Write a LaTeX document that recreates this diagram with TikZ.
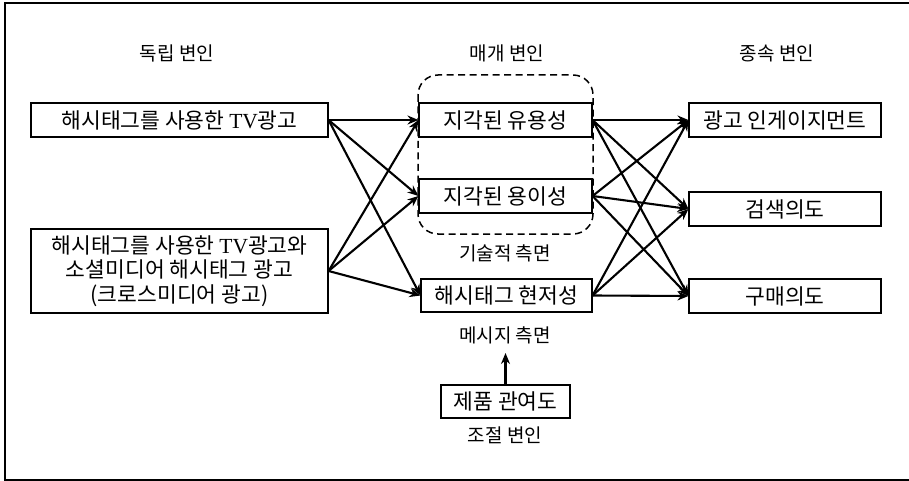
\documentclass[tikz,border=0pt]{standalone}
\usepackage{fontspec}
\setmainfont{Liberation Serif}
\newfontfamily\kr{Noto Sans CJK KR}
\usetikzlibrary{arrows.meta}
\newcommand\tvtxt{{\rmfamily TV}}
\begin{document}
\begin{tikzpicture}[x=1pt,y=-1pt,
  box/.style={draw, line width=1.1pt, minimum height=34pt, inner sep=0pt,
    text=black, font=\kr\fontsize{21.5}{24.5}\selectfont, align=center},
  lbl/.style={text=black, font=\kr\fontsize{19}{22}\selectfont},
  arr/.style={line width=2.1pt, -{Stealth[length=11pt,width=9pt]}}]
\useasboundingbox (0,0) rectangle (909,481);
\draw[line width=1.3pt] (5,3) rectangle (916,480);

% headers
\node[lbl] (hind) at (177,53) {독립 변인};
\node[lbl] (hmed) at (507,53) {매개 변인};
\node[lbl] (hdep) at (777,53) {종속 변인};

% dashed group
\draw[line width=1.5pt, dash pattern=on 7pt off 4.5pt, rounded corners=20pt] (418,75) rectangle (593,234);

% independent
\node[box, minimum width=297pt] (iv1) at (179.5,120) {해시태그를 사용한 \tvtxt 광고};
\node[box, minimum width=297pt, minimum height=84pt] (iv2) at (179.5,271)
  {해시태그를 사용한 \tvtxt 광고와\\소셜미디어 해시태그 광고\\(크로스미디어 광고)};

% mediators
\node[box, minimum width=173pt] (m1) at (505.5,120) {지각된 유용성};
\node[box, minimum width=173pt] (m2) at (505.5,196) {지각된 용이성};
\node[box, minimum width=171pt, minimum height=33pt] (m3) at (506.5,295.5) {해시태그 현저성};
\node[lbl] (tech) at (505,253) {기술적 측면};
\node[lbl] (msg) at (505,335) {메시지 측면};
\coordinate (mtip) at (505.5,353);

% moderator
\node[box, minimum width=129pt, minimum height=33pt] (mod) at (505.5,401.5) {제품 관여도};
\node[lbl] (modl) at (505,435) {조절 변인};

% dependent
\node[box, minimum width=192pt] (d1) at (785,120) {광고 인게이지먼트};
\node[box, minimum width=192pt] (d2) at (785,209) {검색의도};
\node[box, minimum width=192pt] (d3) at (785,296) {구매의도};

% arrows
\foreach \s in {iv1,iv2}{
  \foreach \t in {m1,m2,m3}{
    \draw[arr] (\s.east) -- (\t.west);
  }
}
\foreach \s in {m1,m2,m3}{
  \foreach \t in {d1,d2,d3}{
    \draw[arr] (\s.east) -- (\t.west);
  }
}
\draw[arr] (mod.north) -- (mtip);
\end{tikzpicture}
\end{document}
